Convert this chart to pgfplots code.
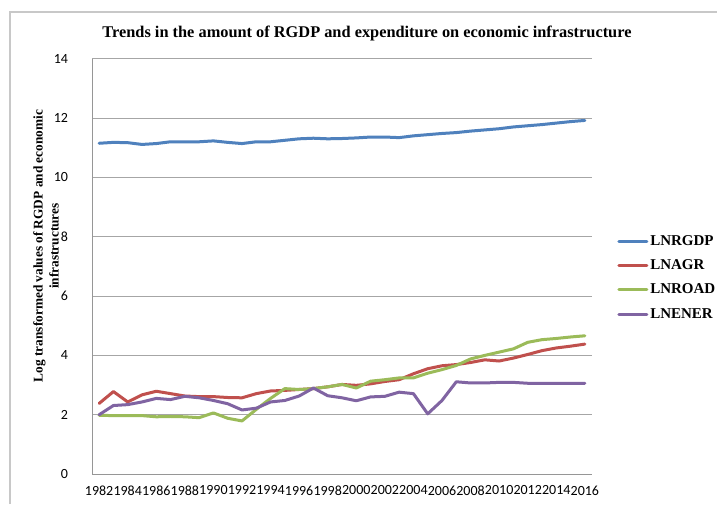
\documentclass[border=0pt]{standalone}
\usepackage{graphicx}
\usepackage{fontspec}
\setmainfont{Liberation Serif}
\newfontfamily\calibri{Carlito}
\usepackage{pgfplots}
\pgfplotsset{compat=1.18}
\usepackage{pgfplotstable}

\definecolor{xlblue}{HTML}{4F81BD}
\definecolor{xlred}{HTML}{C0504D}
\definecolor{xlgreen}{HTML}{9BBB59}
\definecolor{xlpurple}{HTML}{8064A2}
\definecolor{gridgray}{HTML}{A6A6A6}
\definecolor{axisgray}{HTML}{969696}
\definecolor{bordergray}{HTML}{C8C8C8}

\pgfplotstableread{
x  rgdp   agr   road  ener
0  11.15  2.38  1.98  2.00
1  11.18  2.78  1.97  2.31
2  11.17  2.43  1.97  2.34
3  11.11  2.67  1.97  2.43
4  11.14  2.79  1.93  2.55
5  11.20  2.71  1.94  2.51
6  11.20  2.63  1.93  2.62
7  11.20  2.61  1.90  2.57
8  11.23  2.61  2.06  2.48
9  11.18  2.58  1.88  2.37
10 11.14  2.57  1.79  2.16
11 11.20  2.71  2.18  2.22
12 11.20  2.80  2.55  2.43
13 11.25  2.82  2.88  2.48
14 11.30  2.85  2.85  2.63
15 11.32  2.88  2.88  2.90
16 11.30  2.94  2.94  2.64
17 11.31  3.02  3.02  2.57
18 11.33  2.99  2.90  2.47
19 11.36  3.04  3.13  2.60
20 11.36  3.12  3.18  2.62
21 11.34  3.18  3.24  2.76
22 11.40  3.38  3.24  2.71
23 11.44  3.55  3.40  2.03
24 11.48  3.65  3.52  2.48
25 11.51  3.69  3.66  3.11
26 11.56  3.76  3.88  3.07
27 11.60  3.85  4.00  3.07
28 11.64  3.81  4.11  3.09
29 11.70  3.91  4.22  3.09
30 11.74  4.03  4.44  3.06
31 11.78  4.16  4.53  3.06
32 11.83  4.25  4.57  3.06
33 11.88  4.31  4.62  3.06
34 11.92  4.38  4.66  3.06
}\datatable

\begin{document}
\begin{tikzpicture}
\useasboundingbox (0,0) rectangle (537.75pt,-378pt);
\fill[white] (0,0) rectangle (537.75pt,-378pt);
\draw[bordergray, line width=1pt] (7.5pt,-378pt) -- (7.5pt,-9pt) -- (537.75pt,-9pt);

\begin{axis}[
  at={(69pt,-44.03pt)}, anchor=north west,
  scale only axis,
  width=375pt, height=311.5pt,
  xmin=-0.5, xmax=34.5,
  ymin=0, ymax=14,
  xtick={0,2,...,34},
  xticklabels={1982,1984,1986,1988,1990,1992,1994,1996,1998,2000,2002,2004,2006,2008,2010,2012,2014,2016},
  ytick={0,2,...,14},
  major tick length=0pt,
  axis x line*=bottom, axis y line*=left,
  axis line style={axisgray, line width=0.75pt, -},
  ymajorgrids, grid style={gridgray, line width=0.75pt},
  tick label style={font=\calibri\fontsize{10.5}{12}\selectfont, black},
  /pgf/number format/assume math mode=true,
  yticklabel style={anchor=east, xshift=-14.5pt},
  xticklabel style={anchor=north, yshift=-8.5pt, inner sep=0pt},
  legend style={at={(axis description cs:1.05,0.577)}, anchor=north west,
    draw=none, fill=none, inner sep=0pt, row sep=8.2pt, column sep=1.5pt,
    font=\bfseries\fontsize{11.25}{13}\selectfont,
    nodes={inner sep=0pt, text height=8pt, text depth=2pt, anchor=west}},
  legend cell align=left,
  legend image code/.code={\draw[#1, line width=2.25pt] (0pt,0pt) -- (21pt,0pt);},
  every axis plot/.append style={line width=2.25pt, line join=round, line cap=round, mark=none},
  clip=false,
]
\addplot[xlblue] table[x=x, y=rgdp] {\datatable};
\addlegendentry{LNRGDP}
\addplot[xlred] table[x=x, y=agr] {\datatable};
\addlegendentry{LNAGR}
\addplot[xlgreen] table[x=x, y=road] {\datatable};
\addlegendentry{LNROAD}
\addplot[xlpurple] table[x=x, y=ener] {\datatable};
\addlegendentry{LNENER}
\end{axis}

\node at (275.25pt,-24.75pt) {\resizebox{396.75pt}{!}{\bfseries Trends in the amount of RGDP and expenditure on economic infrastructure}};
\node[rotate=90] at (35.6pt,-184.5pt) {\resizebox{204pt}{!}{\bfseries\begin{tabular}{@{}c@{}}Log transformed values of RGDP and economic\\ infrastructures\end{tabular}}};
\end{tikzpicture}
\end{document}
